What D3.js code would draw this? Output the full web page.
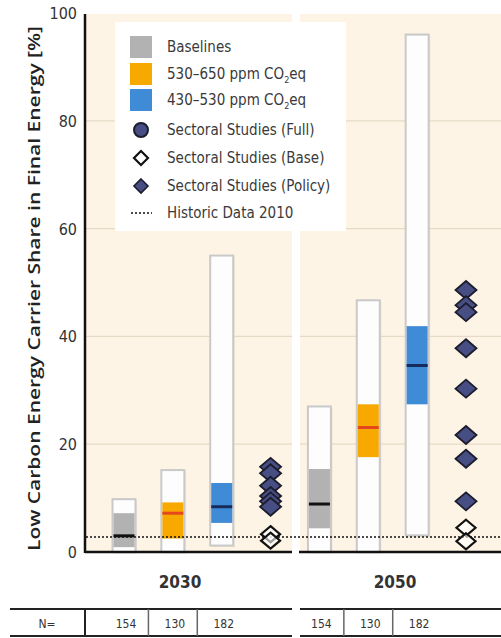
<!DOCTYPE html>
<html><head><meta charset="utf-8">
<script src="https://cdn.jsdelivr.net/npm/d3@7/dist/d3.min.js"></script>
<style>body{margin:0;background:#fff}svg{display:block}</style></head>
<body>
<script>
// ---------- data ----------
const years = ["2030", "2050"];
const scenarios = ["Baselines", "530–650 ppm CO2eq", "430–530 ppm CO2eq"];
const slots = ["2030|Baselines", "2030|530–650", "2030|430–530", "2030|Sectoral",
               "2050|Baselines", "2050|530–650", "2050|430–530", "2050|Sectoral"];
const barSlots   = ["2030|Baselines", "2030|530–650", "2030|430–530",
                    "2050|Baselines", "2050|530–650", "2050|430–530"];
const barScenario = [0, 1, 2, 0, 1, 2];
const barMin    = [0.0, 0.0, 1.2, 0.0, 0.0, 3.1];
const barQ1     = [0.9, 2.5, 5.4, 4.4, 17.6, 27.4];
const barMedian = [3.0, 7.2, 8.4, 8.9, 23.1, 34.6];
const barQ3     = [7.2, 9.2, 12.8, 15.4, 27.4, 41.9];
const barMax    = [9.8, 15.2, 55.0, 27.0, 46.7, 96.0];
const barN      = [154, 130, 182, 154, 130, 182];
const policy2030 = [15.8, 14.6, 12.3, 10.4, 9.4, 8.4];
const policy2050 = [48.6, 45.8, 44.5, 37.8, 30.3, 21.7, 17.3, 9.4];
const base2030 = [3.3, 2.1];
const base2050 = [4.5, 2.0];
const historic2010 = 2.8;
const yTicks = [0, 20, 40, 60, 80, 100];
const gridTicks = [20, 40, 60, 80];
const legendLabels = ["Baselines", "530–650 ppm CO2eq", "430–530 ppm CO2eq",
  "Sectoral Studies (Full)", "Sectoral Studies (Base)", "Sectoral Studies (Policy)", "Historic Data 2010"];

// ---------- styles ----------
const iqrColors = ["#b2b2b2", "#f8a900", "#3f8bd5"];
const medColors = ["#111111", "#e4471c", "#172b5c"];
const FONT = "'DejaVu Sans Condensed','Liberation Sans Narrow',sans-serif";
const W = 501, H = 638;

const svg = d3.select("body").append("svg").attr("width", W).attr("height", H)
  .style("font-family", FONT);

const y = d3.scaleLinear().domain([0, 100]).range([552, 13]);
const x = d3.scalePoint().domain(slots).range([124, 466]);
const barW = 23;

// panels
const panels = [[86, 292], [300, 501]];
svg.selectAll("rect.panel").data(panels).join("rect")
  .attr("x", d => d[0]).attr("y", 14).attr("width", d => d[1] - d[0])
  .attr("height", y(0) - 14).attr("fill", "#fdf4e5");
panels.forEach(p => {
  svg.append("g").selectAll("line").data(gridTicks).join("line")
    .attr("x1", p[0]).attr("x2", p[1]).attr("y1", d => y(d)).attr("y2", d => y(d))
    .attr("stroke", "#e6dac6").attr("stroke-width", 1.2);
});

// legend box
const lg = svg.append("g");
lg.append("rect").attr("x", 115).attr("y", 22).attr("width", 231).attr("height", 209)
  .attr("fill", "#ffffff");

// bars
const bars = svg.append("g").selectAll("g").data(barSlots.map((s, i) => i)).join("g");
bars.append("rect")
  .attr("x", i => x(barSlots[i]) - barW / 2 + 1.5).attr("width", barW)
  .attr("y", i => y(barMax[i]) + 1.5).attr("height", i => y(barMin[i]) - y(barMax[i]))
  .attr("fill", "#d9d2c6").attr("opacity", 0.5);
bars.append("rect")
  .attr("x", i => x(barSlots[i]) - barW / 2).attr("width", barW)
  .attr("y", i => y(barMax[i])).attr("height", i => y(barMin[i]) - y(barMax[i]))
  .attr("fill", "#fdfdfe").attr("stroke", "#c9c9c9").attr("stroke-width", 2);
bars.append("rect")
  .attr("x", i => x(barSlots[i]) - barW / 2 + 1).attr("width", barW - 2)
  .attr("y", i => y(barQ3[i])).attr("height", i => y(barQ1[i]) - y(barQ3[i]))
  .attr("fill", i => iqrColors[barScenario[i]]);
bars.append("line")
  .attr("x1", i => x(barSlots[i]) - barW / 2 + 1).attr("x2", i => x(barSlots[i]) + barW / 2 - 1)
  .attr("y1", i => y(barMedian[i])).attr("y2", i => y(barMedian[i]))
  .attr("stroke", i => medColors[barScenario[i]]).attr("stroke-width", 3);

// historic line
svg.append("line").attr("x1", 86).attr("x2", 501)
  .attr("y1", y(historic2010)).attr("y2", y(historic2010))
  .attr("stroke", "#111").attr("stroke-width", 1.5).attr("stroke-dasharray", "2,2");

// diamonds
const dia = (hw, hh) => `M0,${-hh}L${hw},0L0,${hh}L${-hw},0Z`;
function drawPolicy(vals, slot) {
  svg.append("g").selectAll("path").data(vals).join("path")
    .attr("d", dia(10.5, 9))
    .attr("transform", d => `translate(${x(slot)},${y(d)})`)
    .attr("fill", "#474e83").attr("stroke", "#1c1c2c").attr("stroke-width", 1.8);
}
function drawBase(vals, slot) {
  svg.append("g").selectAll("path").data(vals).join("path")
    .attr("d", dia(9.5, 8))
    .attr("transform", d => `translate(${x(slot)},${y(d)})`)
    .attr("fill", "#ffffff").attr("fill-opacity", 0.6).attr("stroke", "#111").attr("stroke-width", 2.2);
}
drawBase(base2030, "2030|Sectoral");
drawPolicy(policy2030, "2030|Sectoral");
drawBase(base2050, "2050|Sectoral");
drawPolicy(policy2050, "2050|Sectoral");

// axes
svg.append("line").attr("x1", 85).attr("x2", 85).attr("y1", 14).attr("y2", y(0) + 1)
  .attr("stroke", "#111").attr("stroke-width", 2.5);
panels.forEach(p => {
  svg.append("line").attr("x1", p[0] - 1).attr("x2", p[1]).attr("y1", y(0)).attr("y2", y(0))
    .attr("stroke", "#111").attr("stroke-width", 2.5);
});
svg.append("g").selectAll("text").data(yTicks).join("text")
  .attr("x", 77).attr("y", d => y(d) + 6).attr("text-anchor", "end")
  .attr("font-size", 16).attr("fill", "#333").text(d => d);

svg.append("text").attr("transform", `translate(40,${(y(0) + y(100)) / 2 + 6}) rotate(-90)`)
  .attr("text-anchor", "middle").attr("font-size", 16).attr("font-weight", 600)
  .style("font-family", "'Open Sans','Noto Sans',sans-serif")
  .attr("fill", "#222").attr("textLength", 525).attr("lengthAdjust", "spacingAndGlyphs")
  .text("Low Carbon Energy Carrier Share in Final Energy [%]");

// year labels
const yearX = [180, 395];
svg.append("g").selectAll("text").data(years).join("text")
  .attr("x", (d, i) => yearX[i]).attr("y", 588).attr("text-anchor", "middle")
  .attr("font-size", 17).attr("font-weight", "bold").attr("fill", "#333").text(d => d);

// N table
const tbl = svg.append("g");
panels.forEach((p, i) => {
  const x0 = i === 0 ? 10 : p[0];
  [609, 636].forEach(yy => tbl.append("line").attr("x1", x0).attr("x2", p[1])
    .attr("y1", yy).attr("y2", yy).attr("stroke", "#222").attr("stroke-width", 2));
});
tbl.append("line").attr("x1", 85).attr("x2", 85).attr("y1", 609).attr("y2", 636)
  .attr("stroke", "#222").attr("stroke-width", 2);
const dividers = [[0, 1], [1, 2], [3, 4], [4, 5]];
tbl.selectAll("line.div").data(dividers).join("line")
  .attr("x1", d => (x(barSlots[d[0]]) + x(barSlots[d[1]])) / 2)
  .attr("x2", d => (x(barSlots[d[0]]) + x(barSlots[d[1]])) / 2)
  .attr("y1", 609).attr("y2", 636).attr("stroke", "#666").attr("stroke-width", 1.5);
tbl.append("text").attr("x", 47).attr("y", 628).attr("text-anchor", "middle")
  .attr("font-size", 12).attr("fill", "#333").text("N=");
tbl.selectAll("text.n").data(barN).join("text")
  .attr("x", (d, i) => x(barSlots[i]) + 2).attr("y", 628).attr("text-anchor", "middle")
  .attr("font-size", 12).attr("fill", "#333").text(d => d);

// legend content
const rowY = [47, 74, 100, 130, 158, 186, 213];
[0, 1, 2].forEach(i => lg.append("rect").attr("x", 130).attr("y", rowY[i] - 11)
  .attr("width", 22).attr("height", 22).attr("fill", iqrColors[i]));
lg.append("circle").attr("cx", 141).attr("cy", rowY[3]).attr("r", 7)
  .attr("fill", "#474e83").attr("stroke", "#1c1c2c").attr("stroke-width", 2);
lg.append("path").attr("d", dia(7, 7)).attr("transform", `translate(141,${rowY[4]})`)
  .attr("fill", "#fff").attr("stroke", "#111").attr("stroke-width", 2.2);
lg.append("path").attr("d", dia(7, 7)).attr("transform", `translate(141,${rowY[5]})`)
  .attr("fill", "#474e83").attr("stroke", "#1c1c2c").attr("stroke-width", 1.6);
lg.append("line").attr("x1", 131).attr("x2", 152).attr("y1", rowY[6]).attr("y2", rowY[6])
  .attr("stroke", "#111").attr("stroke-width", 1.5).attr("stroke-dasharray", "2,2");
legendLabels.forEach((t, i) => {
  const tx = lg.append("text").attr("x", 167).attr("y", rowY[i] + 5)
    .attr("font-size", 15).attr("fill", "#3a3a3a");
  if (t.endsWith("CO2eq")) {
    tx.append("tspan").text(t.replace("CO2eq", "CO"));
    tx.append("tspan").attr("font-size", 9).attr("dy", 4).text("2");
    tx.append("tspan").attr("dy", -4).text("eq");
  } else tx.text(t);
});
</script>
</body></html>
